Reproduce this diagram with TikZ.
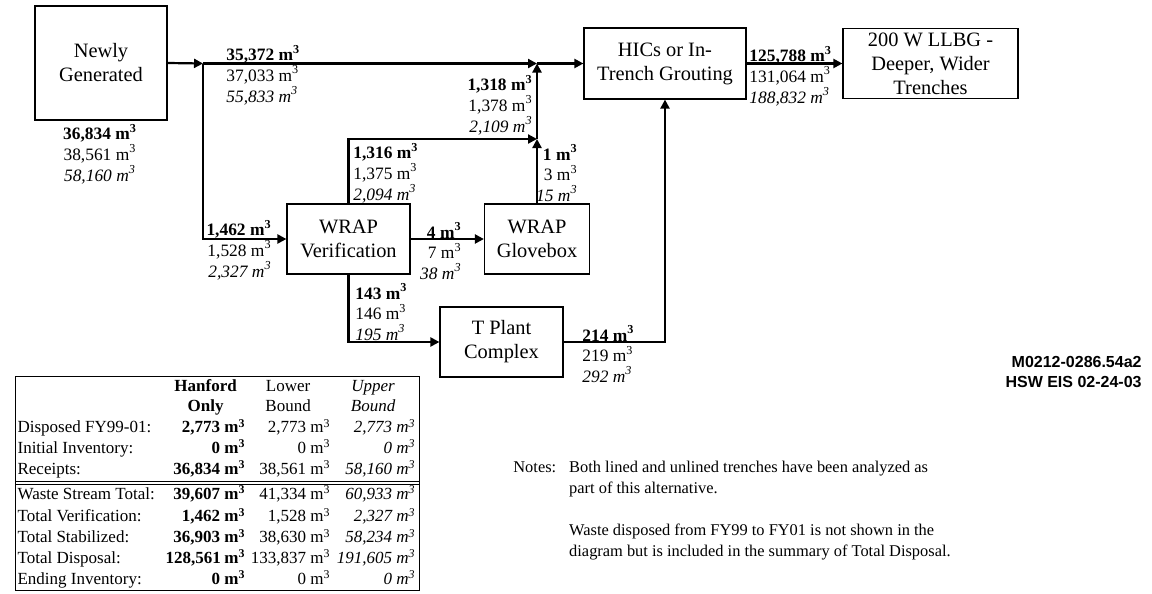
\documentclass[tikz,border=0pt]{standalone}
\usepackage{fontspec}
\usepackage{array}
\setmainfont{Liberation Serif}
\newfontfamily\codefont{Liberation Sans}
\usetikzlibrary{arrows.meta, positioning, calc}
\newcommand{\cum}[1]{#1~m\textsuperscript{3}}
\newcommand{\vols}[3]{\textbf{\cum{#1}}\\\cum{#2}\\\textit{\cum{#3}}}
\newcommand{\hd}[1]{\multicolumn{1}{@{}c@{}}{#1}}

\begin{document}
\begin{tikzpicture}[
            >={Triangle[length=4.5pt, width=4.5pt]},
            % one unit is one pixel of the original sheet, y running down
            x=0.5pt, y=-0.5pt,
            box/.style  ={draw, line width=0.6pt, align=center, inner sep=0pt,
                    font=\fontsize{10.2}{12}\selectfont},
            vol/.style  ={inner sep=0pt, font=\fontsize{8.7}{10.3}\selectfont},
            pipe/.style ={->, line width=1.1pt},
            tbl/.style  ={draw, line width=0.6pt, inner sep=0pt, font=\fontsize{8.5}{10.4}\selectfont},
            note/.style ={inner sep=0pt, font=\fontsize{8.2}{10.5}\selectfont}
        ]
        \useasboundingbox (0,0) rectangle (1152,594);

        \node[box, minimum width=66pt, minimum height=57pt]   (newgen)   at (101,63)    {Newly\\Generated};
        \node[box, minimum width=81pt, minimum height=35.5pt] (hics)     at (665,63.5)  {HICs or In-\\Trench Grouting};
        \node[box, minimum width=87.5pt, minimum height=35pt] (llbg)     at (930.5,63.5) {200 W LLBG -\\Deeper, Wider\\Trenches};
        \node[box, minimum width=61.5pt, minimum height=35pt] (wrapver)  at (348.5,239) {WRAP\\Verification};
        \node[box, minimum width=52.5pt, minimum height=35pt] (glovebox) at (537,239)   {WRAP\\Glovebox};
        \node[box, minimum width=61.5pt, minimum height=35pt] (tplant)   at (501.5,342) {T Plant\\Complex};

        % branch and merge points of the flow lines
        \coordinate (split) at (203,63.5);
        \coordinate (merge) at (537,63.5);
        \coordinate (mid)   at (537,139);

        \draw[pipe] (newgen.east)   -- (split);
        \draw[pipe] (split)         -- (merge);
        \draw[pipe] (merge)         -- (hics.west);
        \draw[pipe] (hics.east)     -- (llbg.west);
        \draw[pipe] (split)         |- (wrapver.west);
        \draw[pipe] (wrapver.north) |- (mid);
        \draw[pipe] (glovebox.north) -- (mid);
        \draw[pipe] (mid)           -- (merge);
        \draw[pipe] (wrapver.east)  -- (glovebox.west);
        \draw[pipe] (wrapver.south) |- (tplant.west);
        \draw[pipe] (tplant.east)   -| (hics.south);

        % volumes: Hanford only (bold), lower bound, upper bound (italic)
        \node[vol, align=center]            (vnew)    at (100,154) {\vols{36,834}{38,561}{58,160}};
        \node[vol, align=left, anchor=west]  (vtop)    at (226,75)  {\vols{35,372}{37,033}{55,833}};
        \node[vol, align=right, anchor=east] (vmerge)  at (533,105) {\vols{1,318}{1,378}{2,109}};
        \node[vol, align=left, anchor=west]  (vverup)  at (353,173) {\vols{1,316}{1,375}{2,094}};
        \node[vol, align=right, anchor=east] (vglove)  at (578,173) {\vols{1}{3}{15}};
        \node[vol, align=right, anchor=east] (vverin)  at (272,250) {\vols{1,462}{1,528}{2,327}};
        \node[vol, align=right, anchor=east] (vgloin)  at (462,251) {\vols{4}{7}{38}};
        \node[vol, align=left, anchor=west]  (vtpin)   at (355,312) {\vols{143}{146}{195}};
        \node[vol, align=left, anchor=west]  (vtpout)  at (582,354) {\vols{214}{219}{292}};
        \node[vol, align=left, anchor=west]  (vdisp)   at (749,76)  {\vols{125,788}{131,064}{188,832}};

        \node[inner sep=0pt, align=right, anchor=east, font=\codefont\bfseries\fontsize{8}{9.7}\selectfont]
              (code) at (1142,372) {M0212-0286.54a2\\HSW EIS 02-24-03};

        % summary table, lower left
        \setlength{\doublerulesep}{1pt}
        \setlength{\arrayrulewidth}{0.5pt}
        \node[tbl, anchor=north west] (summary) at (15,376) {%
            \begin{tabular}{@{\hspace{1pt}}p{74pt}@{}>{\raggedleft\arraybackslash}p{40pt}@{}>{\raggedleft\arraybackslash}p{42.5pt}@{}>{\raggedleft\arraybackslash}p{42.5pt}@{\hspace{2pt}}}
                & \hd{\textbf{Hanford}} & \hd{Lower} & \multicolumn{1}{@{}c@{\hspace{2pt}}}{\textit{Upper}}\\
                & \hd{\textbf{Only}} & \hd{Bound} & \multicolumn{1}{@{}c@{\hspace{2pt}}}{\textit{Bound}}\\
                Disposed FY99-01: & \textbf{\cum{2,773}} & \cum{2,773} & \textit{\cum{2,773}}\\
                Initial Inventory: & \textbf{\cum{0}} & \cum{0} & \textit{\cum{0}}\\
                Receipts: & \textbf{\cum{36,834}} & \cum{38,561} & \textit{\cum{58,160}}\\
                \hline\hline
                Waste Stream Total: & \textbf{\cum{39,607}} & \cum{41,334} & \textit{\cum{60,933}}\\[1pt]
                Total Verification: & \textbf{\cum{1,462}} & \cum{1,528} & \textit{\cum{2,327}}\\
                Total Stabilized: & \textbf{\cum{36,903}} & \cum{38,630} & \textit{\cum{58,234}}\\
                Total Disposal: & \textbf{\cum{128,561}} & \cum{133,837} & \textit{\cum{191,605}}\\
                Ending Inventory: & \textbf{\cum{0}} & \cum{0} & \textit{\cum{0}}
            \end{tabular}};

        \node[note, anchor=north west] (notes) at (513,457) {%
            \begin{tabular}{@{}l@{\hspace{6.5pt}}l@{}}
                Notes: & Both lined and unlined trenches have been analyzed as\\
                       & part of this alternative.\\[10.5pt]
                       & Waste disposed from FY99 to FY01 is not shown in the\\
                       & diagram but is included in the summary of Total Disposal.
            \end{tabular}};

    \end{tikzpicture}
\end{document}
